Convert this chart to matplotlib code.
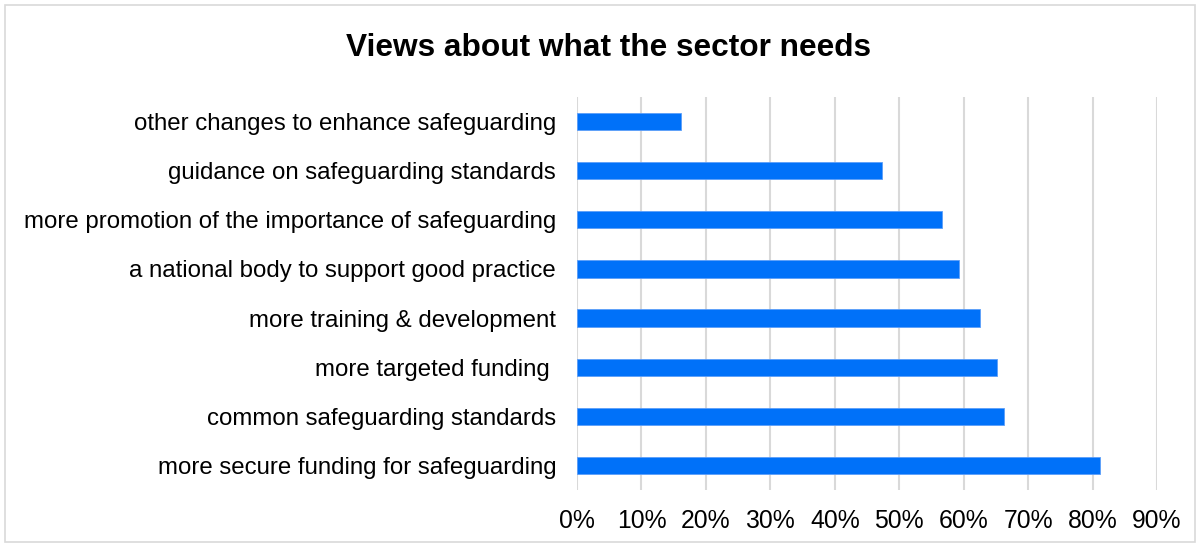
import matplotlib
matplotlib.use("Agg")
import matplotlib.pyplot as plt
from matplotlib.patches import Rectangle
from matplotlib.ticker import FuncFormatter, MultipleLocator

plt.rcParams['font.family'] = ['Liberation Sans', 'DejaVu Sans']

title = "Views about what the sector needs"
categories = [
    "more secure funding for safeguarding",
    "common safeguarding standards",
    "more targeted funding ",
    "more training & development",
    "a national body to support good practice",
    "more promotion of the importance of safeguarding",
    "guidance on safeguarding standards",
    "other changes to enhance safeguarding",
]
values = [0.812, 0.662, 0.651, 0.626, 0.593, 0.567, 0.474, 0.161]

bar_color = "#0071F9"
grid_color = "#D9D9D9"

fig = plt.figure(figsize=(12, 5.47), dpi=100)
W, H = 1200, 547
ax = fig.add_axes([577 / W, 1 - 490 / H, (1157 - 577) / W, (490 - 97) / H])

ax.barh(range(len(categories)), values, height=0.35, color=bar_color,
        edgecolor="#5C9EF9", linewidth=0.6, zorder=3)
ax.set_yticks(range(len(categories)))
ax.set_yticklabels(categories, fontsize=17.3)
ax.set_ylim(-0.5, len(categories) - 0.5)
ax.set_xlim(0, 0.9)
ax.xaxis.set_major_locator(MultipleLocator(0.1))
ax.xaxis.set_major_formatter(FuncFormatter(lambda v, p: f"{round(v * 100)}%"))
ax.tick_params(axis='x', labelsize=17.8, length=0, pad=14)
ax.tick_params(axis='y', length=0, pad=15)
ax.grid(axis='x', color=grid_color, linewidth=1.5, zorder=0)
for s in ax.spines.values():
    s.set_visible(False)

fig.text(609 / W, 1 - 48 / H, title, ha='center', va='center',
         fontsize=22.8, fontweight='bold')

fig.patches.append(Rectangle((5 / W, 5 / H), 1 - 10 / W, 1 - 10 / H,
                             transform=fig.transFigure, fill=False,
                             edgecolor=grid_color, linewidth=1.2))

fig.savefig("out.png", dpi=100)
